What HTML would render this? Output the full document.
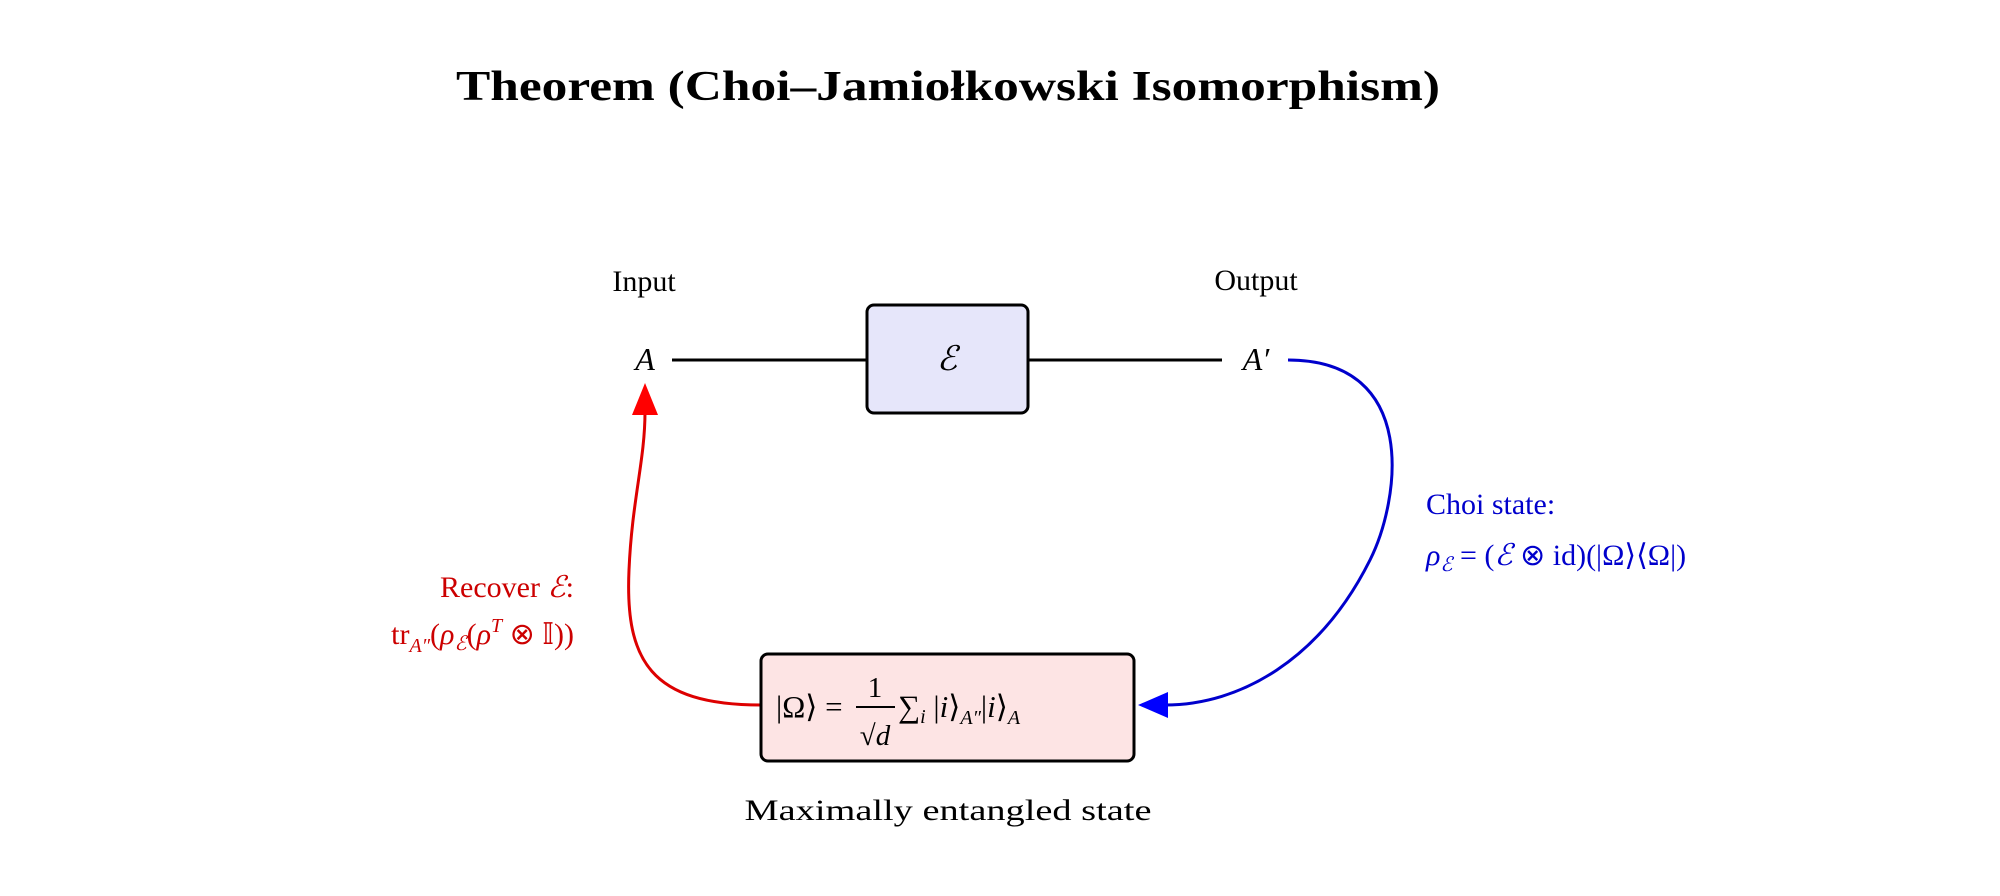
<!DOCTYPE html>
<html><head><meta charset="utf-8"><style>
html,body{margin:0;padding:0;background:#fff;}
svg{display:block;}
text{font-family:"Liberation Serif",serif;}
.i{font-style:italic;}
</style></head><body>
<svg width="2000" height="896" viewBox="0 0 2000 896" xmlns="http://www.w3.org/2000/svg">
<defs>
<marker id="ar" markerWidth="10" markerHeight="10" refX="9" refY="5" orient="auto" markerUnits="userSpaceOnUse">
</marker>
</defs>
<text x="948" y="100" text-anchor="middle" font-size="42" font-weight="bold" textLength="984" lengthAdjust="spacingAndGlyphs">Theorem (Choi–Jamiołkowski Isomorphism)</text>

<text x="644" y="291" text-anchor="middle" font-size="30">Input</text>
<text x="1256" y="290" text-anchor="middle" font-size="30">Output</text>

<text x="645" y="370" text-anchor="middle" font-size="32" class="i">A</text>
<line x1="672" y1="360" x2="867" y2="360" stroke="#000" stroke-width="3"/>
<rect x="867" y="305" width="161" height="108" rx="7" fill="#e6e6fa" stroke="#000" stroke-width="3"/>
<text x="947" y="370" text-anchor="middle" font-size="34" class="i">ℰ</text>
<line x1="1028" y1="360" x2="1222" y2="360" stroke="#000" stroke-width="3"/>
<text x="1256" y="370" text-anchor="middle" font-size="32" class="i">A′</text>

<!-- blue curve -->
<path d="M1288,360 C1420,360 1400,500 1370,560 C1320,660 1240,705 1165,705" fill="none" stroke="#0000cc" stroke-width="3"/>
<polygon points="1138,705 1168,692 1168,718" fill="#0000ff"/>

<!-- red curve -->
<path d="M761,705 C650,705 625,660 629,570 C632,500 645,460 645,412" fill="none" stroke="#dd0000" stroke-width="3"/>
<polygon points="645,383 632,415 658,415" fill="#ff0000"/>

<rect x="761" y="654" width="373" height="107" rx="7" fill="#fde4e4" stroke="#000" stroke-width="3"/>
<text x="776" y="717" font-size="31">|Ω⟩ =</text>
<text x="875" y="697" text-anchor="middle" font-size="29">1</text>
<line x1="856" y1="707" x2="895" y2="707" stroke="#000" stroke-width="2"/>
<text x="875" y="745" text-anchor="middle" font-size="29">√<tspan class="i">d</tspan></text>
<text x="898" y="717" font-size="31">∑<tspan font-size="20" class="i" dy="6">i</tspan><tspan dy="-6"> |</tspan><tspan class="i">i</tspan>⟩<tspan font-size="20" class="i" dy="7">A″</tspan><tspan dy="-7">|</tspan><tspan class="i">i</tspan>⟩<tspan font-size="20" class="i" dy="7">A</tspan></text>

<text x="948" y="820" text-anchor="middle" font-size="30" textLength="407" lengthAdjust="spacingAndGlyphs">Maximally entangled state</text>

<text x="574" y="597" text-anchor="end" font-size="30" fill="#cc0000">Recover <tspan class="i">ℰ</tspan>:</text>
<text x="574" y="644" text-anchor="end" font-size="30" fill="#cc0000">tr<tspan font-size="20" class="i" dy="8">A″</tspan><tspan dy="-8">(</tspan><tspan class="i">ρ</tspan><tspan font-size="20" class="i" dy="6">ℰ</tspan><tspan dy="-6">(</tspan><tspan class="i">ρ</tspan><tspan font-size="20" class="i" dy="-12">T</tspan><tspan dy="12"> ⊗ 𝕀))</tspan></text>

<text x="1426" y="514" font-size="30" fill="#0000cc">Choi state:</text>
<text x="1426" y="565" font-size="30" fill="#0000cc"><tspan class="i">ρ</tspan><tspan font-size="20" class="i" dy="6">ℰ</tspan><tspan dy="-6"> = (</tspan><tspan class="i">ℰ</tspan> ⊗ id)(|Ω⟩⟨Ω|)</text>
</svg>
</body></html>
